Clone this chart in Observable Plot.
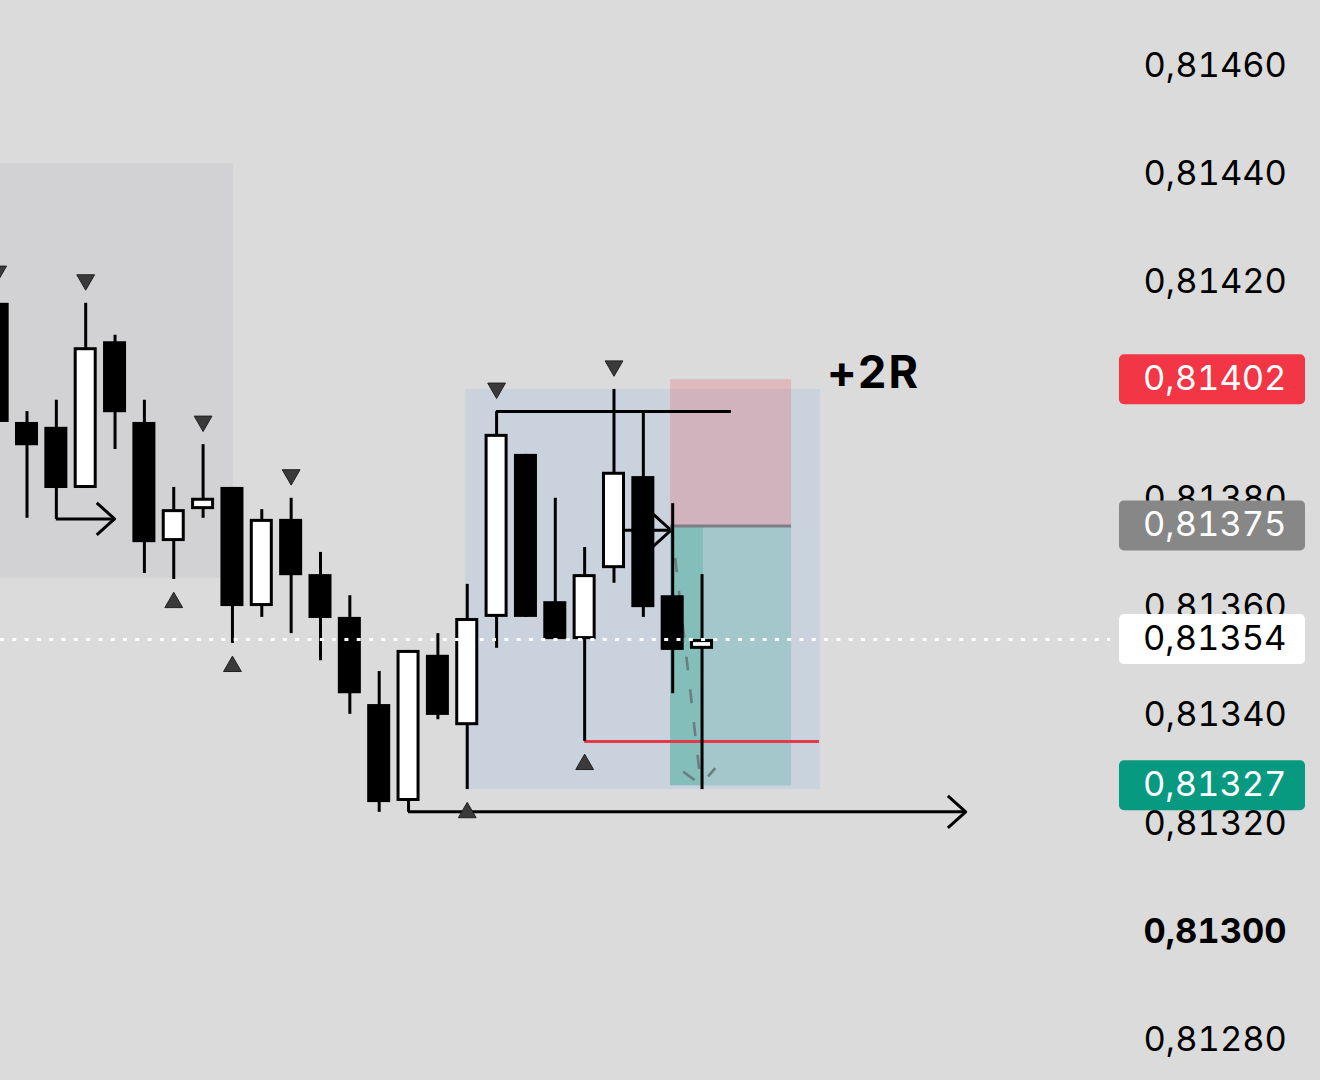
<!DOCTYPE html>
<html>
<head>
<meta charset="utf-8">
<script src="https://cdn.jsdelivr.net/npm/d3@7"></script>
<script src="https://cdn.jsdelivr.net/npm/@observablehq/plot@0.6"></script>
<style>
  html, body { margin: 0; padding: 0; background: #dbdbdb; }
  #chart svg { display: block; }
</style>
</head>
<body>
<div id="chart"></div>
<script>
// ---------- data ----------
const barIndex = [0,1,2,3,4,5,6,7,8,9,10,11,12,13,14,15,16,17,18,19,20,21,22,23,24];
const open  = [0.814161,0.813941,0.813932,0.813819,0.814090,0.813941,0.813721,0.813780,0.813821,0.813601,0.813762,0.813660,0.813581,0.813420,0.813241,0.813511,0.813381,0.813581,0.813882,0.813610,0.813540,0.813671,0.813841,0.813621,0.813522];
const high  = [0.814177,0.813961,0.813982,0.814161,0.814102,0.813982,0.813821,0.813900,0.813821,0.813780,0.813801,0.813701,0.813621,0.813481,0.813520,0.813551,0.813642,0.813961,0.813882,0.813801,0.813710,0.814002,0.813961,0.813791,0.813660];
const low   = [0.813920,0.813764,0.813762,0.813819,0.813891,0.813662,0.813651,0.813764,0.813533,0.813581,0.813551,0.813501,0.813402,0.813221,0.813221,0.813392,0.813263,0.813524,0.813581,0.813540,0.813352,0.813644,0.813581,0.813440,0.813263];
const close = [0.813941,0.813898,0.813819,0.814079,0.813959,0.813719,0.813780,0.813801,0.813601,0.813762,0.813658,0.813579,0.813440,0.813239,0.813520,0.813400,0.813579,0.813919,0.813581,0.813540,0.813660,0.813849,0.813599,0.813520,0.813540];

const pivotHighBars = [0, 3, 7, 10, 17, 21];
const pivotLowBars  = [6, 8, 16, 20];

// 0,81400 sits fully under the stop badge in the reference, so it is not listed
const yTicks     = [0.81460, 0.81440, 0.81420, 0.81380, 0.81360, 0.81340, 0.81320, 0.81280];
const yTicksBold = [0.81300];

const lastPrice   = 0.81354;
const stopPrice   = 0.81402;
const entryPrice  = 0.81375;
const targetPrice = 0.81327;
const badgePrices = [stopPrice, entryPrice, lastPrice, targetPrice];

// annotations (bar index / price)
const zoneBars     = [-1, 8.04];      const zonePrices  = [0.814419, 0.813653];
const rangeBars    = [15.94, 28.04];  const rangePrices = [0.814002, 0.813263];
const positionBars = [22.93, 27.05];
const progressBars = [22.93, 24.05];
const swingHighLine = {x1: 17, x2: 25, y: high[17]};
const swingLowLine  = {x1: 20, x2: 28, y: low[20]};
const arrowStartBars = [2, 21, 14];
const arrowEndBars   = [4, 22.96, 33];
const arrowPrices    = [low[2], 0.813741, low[14]];
const pathStart = {x: 22.976, y: entryPrice};
const pathEnd   = {x: 23.98,  y: 0.813271};
const noteText = ["+2R"]; const noteBar = [28.24]; const notePrice = [0.814032];

// ---------- derived tables ----------
const candles = barIndex.map(i => ({i, o: open[i], h: high[i], l: low[i], c: close[i]}));
const fmt = p => p.toFixed(5).replace(".", ",");

// custom arrow mark drawn through the plot scales
function arrowMark(rows, {stroke = "black", strokeWidth = 3, dash = null, headLength = 24, headAngle = 42} = {}) {
  return (index, scales) => {
    const g = d3.create("svg:g").attr("fill", "none").attr("stroke", stroke)
      .attr("stroke-width", strokeWidth);
    const h = headAngle * Math.PI / 180;
    for (const r of rows) {
      const x1 = scales.x(r.x1), y1 = scales.y(r.y1), x2 = scales.x(r.x2), y2 = scales.y(r.y2);
      const a = Math.atan2(y2 - y1, x2 - x1);
      const lx = x2 - headLength * Math.cos(a - h), ly = y2 - headLength * Math.sin(a - h);
      const rx = x2 - headLength * Math.cos(a + h), ry = y2 - headLength * Math.sin(a + h);
      const shaft = g.append("path").attr("d", `M${x1},${y1}L${x2},${y2}`);
      const wings = g.append("path").attr("d", `M${lx},${ly}L${x2},${y2}L${rx},${ry}`)
        .attr("stroke-linejoin", "round");
      if (dash) { shaft.attr("stroke-dasharray", dash); wings.attr("stroke-dasharray", dash); }
    }
    return g.node();
  };
}

// price badges in the right scale area
function badgeMark(prices, styles) {
  return (index, scales, values, dims) => {
    const g = d3.create("svg:g");
    const left = dims.width - dims.marginRight;
    prices.forEach((p, k) => {
      const y = scales.y(p);
      g.append("rect").attr("x", left + 9).attr("y", y - 25).attr("width", 186).attr("height", 50)
        .attr("rx", 5).attr("fill", styles[k].bg);
      g.append("text").attr("x", left + 33).attr("y", y).attr("dy", "0.32em")
        .attr("text-anchor", "start").attr("font-variant", "tabular-nums")
        .attr("fill", styles[k].fg).attr("font-size", 34.5).attr("font-family", "Inter, sans-serif")
        .text(fmt(p));
    });
    return g.node();
  };
}

const badgeStyles = [
  {bg: "#f23645", fg: "#ffffff"},
  {bg: "#878787", fg: "#ffffff"},
  {bg: "#ffffff", fg: "#000000"},
  {bg: "#089981", fg: "#ffffff"}
];

const chart = Plot.plot({
  width: 1320,
  height: 1080,
  marginLeft: 0, marginRight: 210, marginTop: 0, marginBottom: 0,
  style: {background: "#dbdbdb", fontFamily: "Inter, sans-serif", overflow: "hidden"},
  x: {type: "linear", domain: [0.0971, 37.917], axis: null},
  y: {type: "linear", domain: [0.8127258, 0.8147202]},
  marks: [
    // zones
    Plot.rect([0], {x1: () => zoneBars[0], x2: () => zoneBars[1], y1: () => zonePrices[0], y2: () => zonePrices[1], fill: "#d2d2d5"}),
    Plot.rect([0], {x1: () => rangeBars[0], x2: () => rangeBars[1], y1: () => rangePrices[0], y2: () => rangePrices[1], fill: "#cad2dd"}),
    Plot.rect([0], {x1: () => positionBars[0], x2: () => positionBars[1], y1: () => stopPrice, y2: () => entryPrice, fill: "rgba(242,54,69,0.2)"}),
    Plot.rect([0], {x1: () => positionBars[0], x2: () => positionBars[1], y1: () => entryPrice, y2: () => targetPrice, fill: "rgba(8,153,129,0.2)"}),
    Plot.rect([0], {x1: () => progressBars[0], x2: () => progressBars[1], y1: () => entryPrice, y2: () => targetPrice, fill: "rgba(8,153,129,0.2)"}),
    Plot.ruleY([entryPrice], {x1: positionBars[0], x2: positionBars[1], stroke: "#7d7f84", strokeWidth: 3}),
    // level lines
    Plot.ruleY([swingLowLine], {x1: "x1", x2: "x2", y: "y", stroke: "#e23a4b", strokeWidth: 3}),
    Plot.ruleY([swingHighLine], {x1: "x1", x2: "x2", y: "y", stroke: "#000000", strokeWidth: 3}),
    // arrows
    arrowMark(arrowStartBars.map((x1, k) => ({x1, x2: arrowEndBars[k], y1: arrowPrices[k], y2: arrowPrices[k]})),
      {stroke: "#000000", strokeWidth: 3, headLength: 24, headAngle: 42}),
    arrowMark([{x1: pathStart.x, y1: pathStart.y, x2: pathEnd.x, y2: pathEnd.y}],
      {stroke: "#6c7c80", strokeWidth: 2.6, dash: "14,19", headLength: 22, headAngle: 47}),
    // candles
    Plot.ruleX(candles, {x: "i", y1: "l", y2: "h", stroke: "#000000", strokeWidth: 3}),
    Plot.rect(candles, {
      x1: d => d.i - 0.392, x2: d => d.i + 0.392, y1: "o", y2: "c",
      inset: 1.5, fill: d => d.c > d.o ? "#ffffff" : "#000000", stroke: "#000000", strokeWidth: 3
    }),
    // pivots
    Plot.dot(pivotHighBars, {x: i => i, y: i => high[i], symbol: "triangle", rotate: 180, r: 6.6, dy: -23.4,
      fill: "#3a3a3a", stroke: "#202020", strokeWidth: 1}),
    Plot.dot(pivotLowBars, {x: i => i, y: i => low[i], symbol: "triangle", r: 6.6, dy: 23,
      fill: "#3a3a3a", stroke: "#202020", strokeWidth: 1}),
    // last price line
    Plot.ruleY([lastPrice], {stroke: "#ffffff", strokeWidth: 3, strokeDasharray: "4,8.3"}),
    // note
    Plot.text(noteText, {x: (d, k) => noteBar[k], y: (d, k) => notePrice[k], text: d => d, textAnchor: "start",
      fontSize: 45, fontWeight: "bold", fill: "#000000"}),
    // price scale
    Plot.axisY({anchor: "right", ticks: yTicks, tickFormat: fmt, tickSize: 0, tickPadding: 33, fontSize: 34.5, label: null, fill: "#000000"}),
    Plot.axisY({anchor: "right", ticks: yTicksBold, tickFormat: fmt, tickSize: 0, tickPadding: 33, fontSize: 34.5, fontWeight: "bold", label: null, fill: "#000000"}),
    badgeMark(badgePrices, badgeStyles)
  ]
});
d3.select(chart).selectAll("text").filter(function () { return this.textContent === noteText[0]; })
  .attr("letter-spacing", "2px");
document.getElementById("chart").append(chart);
</script>
</body>
</html>
